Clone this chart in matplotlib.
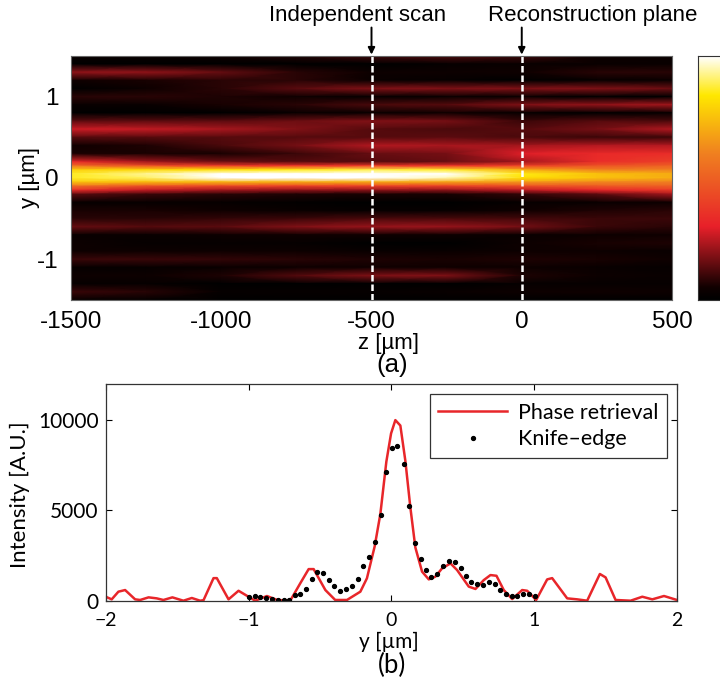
import matplotlib
matplotlib.use('Agg')
import matplotlib.pyplot as plt
from matplotlib.colors import LinearSegmentedColormap
import numpy as np

# top panel: intensity read by eye on a coarse grid
z_grid = [-1500, -1250, -1000, -750, -500, -250, 0, 250, 500]
y_grid = [1.5, 1.4, 1.3, 1.2, 1.1, 1.0, 0.9, 0.8, 0.7, 0.6, 0.5, 0.4, 0.3,
          0.2, 0.15, 0.1, 0.05, 0.0, -0.05, -0.1, -0.15, -0.2, -0.3, -0.4,
          -0.5, -0.6, -0.7, -0.8, -0.9, -1.0, -1.1, -1.2, -1.3, -1.4, -1.5]
heat = [
    [.03, .03, .04, .07, .10, .12, .10, .04, .03],
    [.00, .00, .00, .00, .00, .02, .03, .03, .03],
    [.20, .20, .15, .08, .04, .04, .05, .08, .08],
    [.05, .06, .08, .08, .03, .02, .00, .02, .03],
    [.00, .04, .08, .14, .18, .18, .18, .18, .16],
    [.08, .08, .07, .05, .02, .03, .03, .00, .00],
    [.03, .03, .06, .08, .12, .13, .18, .20, .22],
    [.00, .00, .00, .03, .03, .05, .02, .00, .02],
    [.14, .14, .14, .16, .18, .17, .10, .13, .12],
    [.27, .26, .23, .18, .13, .12, .13, .17, .24],
    [.13, .13, .13, .13, .13, .14, .12, .10, .10],
    [.05, .07, .12, .17, .24, .23, .22, .24, .24],
    [.06, .06, .06, .10, .15, .17, .29, .33, .34],
    [.33, .22, .16, .13, .13, .15, .22, .34, .40],
    [.55, .45, .38, .36, .38, .36, .40, .46, .50],
    [.78, .80, .82, .85, .88, .86, .70, .60, .60],
    [.86, .93, 1.0, 1.0, 1.0, 1.0, .85, .75, .70],
    [.86, .90, 1.0, 1.0, 1.0, .95, .82, .75, .70],
    [.76, .74, .72, .70, .70, .68, .66, .62, .60],
    [.55, .46, .42, .40, .40, .40, .44, .48, .50],
    [.34, .26, .22, .20, .20, .20, .25, .32, .38],
    [.14, .10, .08, .07, .06, .06, .09, .14, .22],
    [.02, .02, .02, .01, .00, .00, .02, .03, .04],
    [.06, .06, .05, .03, .02, .02, .05, .07, .08],
    [.08, .08, .09, .10, .12, .12, .11, .10, .10],
    [.15, .13, .14, .18, .21, .21, .17, .10, .08],
    [.03, .03, .04, .05, .05, .04, .03, .04, .05],
    [.04, .02, .02, .02, .00, .00, .04, .06, .07],
    [.04, .04, .04, .04, .03, .03, .04, .04, .03],
    [.10, .10, .09, .08, .07, .06, .07, .06, .05],
    [.02, .02, .03, .04, .05, .05, .04, .03, .02],
    [.04, .04, .07, .13, .18, .18, .07, .04, .03],
    [.02, .02, .00, .00, .00, .00, .02, .02, .02],
    [.10, .08, .02, .02, .02, .03, .04, .05, .04],
    [.02, .01, .00, .00, .00, .00, .00, .00, .00],
]
map_stops = [0, .05, .30, .60, .84, 1]
map_colors = ['#000000', '#100000', '#e8202a', '#f08020', '#ffe800', '#ffffff']
scan_z = [-500, 0]
scan_names = ['Independent scan', 'Reconstruction plane']
z_ticks = [-1500, -1000, -500, 0, 500]
z_labels = ['-1500', '-1000', '-500', '0', '500']
yt_ticks = [-1, 0, 1]
yt_labels = ['-1', '0', '1']

# bottom panel
retr_y = [-2, -1.958, -1.911, -1.864, -1.794, -1.759, -1.70, -1.643, -1.596, -1.533,
          -1.456, -1.397, -1.339, -1.315, -1.245, -1.222, -1.14, -1.07, -1, -.953,
          -.871, -.80, -.708, -.638, -.579, -.544, -.462, -.393, -.311, -.217, -.171,
          -.117, -.077, -.035, -.002, .028, .063, .098, .133, .168, .215, .262, .308,
          .355, .414, .46, .542, .589, .647, .694, .736, .787, .846, .916, .951, 1.014,
          1.091, 1.126, 1.231, 1.301, 1.371, 1.46, 1.50, 1.57, 1.675, 1.757, 1.827,
          1.909, 2]
retr_i = [220, 75, 500, 590, 75, 40, 185, 130, 40, 185,
          0, 150, 0, 30, 1250, 1250, 75, 550, 220, 0,
          260, 40, 0, 960, 1750, 1750, 590, 40, 40, 500, 1240,
          3000, 4800, 7700, 9260, 10000, 9700, 7750, 5170, 2950, 1610, 1180, 1330,
          1790, 2065, 1700, 780, 650, 1140, 1420, 1380, 590, 90, 590, 550, 40,
          1180, 1250, 130, 75, 0, 1480, 1290, 40, 0, 220, 75,
          260, 40]
knife_y = [-1, -.958, -.918, -.876, -.836, -.797, -.755, -.715, -.675, -.638, -.60,
           -.558, -.519, -.479, -.437, -.40, -.357, -.318, -.276, -.234, -.196, -.154,
           -.114, -.075, -.035, .005, .042, .089, .124, .164, .206, .245, .28, .322,
           .364, .402, .444, .486, .523, .561, .603, .643, .685, .727, .764, .801,
           .846, .883, .925, .965, 1.005]
knife_i = [185, 260, 185, 130, 75, 20, 20, 20, 295, 350, 630,
           1200, 1590, 1510, 1140, 800, 550, 650, 830, 1200, 1940, 2420,
           3230, 4740, 7140, 8470, 8580, 7580, 5240, 3170, 2310, 1700, 1290, 1490,
           1940, 2210, 2140, 1830, 1380, 1010, 900, 885, 1010, 940, 610, 350,
           260, 280, 390, 370, 240]

W, H = 720, 678
fig = plt.figure(figsize=(7.2, 6.78), dpi=100)
cmap = LinearSegmentedColormap.from_list('scan', list(zip(map_stops, map_colors)))


def box(x0, y0, x1, y1):
    return [x0 / W, 1 - y1 / H, (x1 - x0) / W, (y1 - y0) / H]


# (a)
top_font = 'Liberation Sans'
ax = fig.add_axes(box(71, 56, 672, 300))
ax.pcolormesh(z_grid, y_grid, np.array(heat), cmap=cmap, vmin=0, vmax=1, shading='gouraud')
ax.set_xlim(-1500, 500)
ax.set_ylim(-1.5, 1.5)
for z in scan_z:
    ax.axvline(z, color='white', linestyle='--', linewidth=1.8, dashes=(2.6, 1.2))
ax.set_xticks(z_ticks, z_labels, family=top_font, fontsize=17.5)
ax.set_yticks(yt_ticks, yt_labels, family=top_font, fontsize=17.5)
ax.tick_params(length=0, pad=9)
ax.tick_params(axis='x', pad=8)
for s in ax.spines.values():
    s.set_color('#666666')
    s.set_linewidth(0.8)
for z, name, tx in zip(scan_z, scan_names, [358, 593]):
    ax.annotate('', xy=(z, 1.5), xytext=(z, 1.85), annotation_clip=False,
                arrowprops=dict(arrowstyle='-|>', color='black', lw=1.4, mutation_scale=10, shrinkA=0, shrinkB=1))
    fig.text(tx / W, 1 - 16 / H, name, family=top_font, fontsize=16, ha='center', va='center')
fig.text(388 / W, 1 - 343 / H, 'z [µm]', family=top_font, fontsize=16, ha='center', va='center')
fig.text(392 / W, 1 - 365 / H, '(a)', family=top_font, fontsize=18.5, ha='center', va='center')
fig.text(30 / W, 1 - 178 / H, 'y [µm]', family=top_font, fontsize=16, rotation=90, ha='center', va='center')

# colorbar, runs off the right edge of the picture
cax = fig.add_axes(box(698, 56, 760, 300))
cax.imshow(np.linspace(1, 0, 256).reshape(-1, 1), cmap=cmap, aspect='auto')
cax.set_xticks([])
cax.set_yticks([])
for s in cax.spines.values():
    s.set_color('#333333')
    s.set_linewidth(0.8)

# (b)
low_font = 'Lato'
bx = fig.add_axes(box(105.7, 384, 677, 600.7))
bx.plot(retr_y, retr_i, color='#e8262a', linewidth=1.8, label='Phase retrieval')
bx.plot(knife_y, knife_i, linestyle='none', marker='o', markersize=2.8, color='black', label='Knife\u2013edge')
bx.set_xlim(-2, 2)
bx.set_ylim(0, 12000)
bx.set_xticks([-2, -1, 0, 1, 2], ['\u22122', '\u22121', '0', '1', '2'], family=low_font, fontsize=14)
bx.set_yticks([0, 5000, 10000], ['0', '5000', '10000'], family=low_font, fontsize=15)
bx.tick_params(direction='in', top=True, right=True, length=4, width=0.8, pad=5)
bx.tick_params(axis='x', pad=8)
for s in bx.spines.values():
    s.set_color('#333333')
    s.set_linewidth(0.9)
leg = bx.legend(loc='upper right', bbox_to_anchor=(0.9825, 0.952), fancybox=False, framealpha=1,
                edgecolor='#333333', borderaxespad=0, handlelength=3.2, handletextpad=0.5, labelspacing=0.3,
                prop={'family': low_font, 'size': 15.5})
leg.get_frame().set_linewidth(0.9)
fig.text(20 / W, 1 - 495 / H, 'Intensity [A.U.]', family=low_font, fontsize=16, rotation=90, ha='center', va='center')
fig.text(389 / W, 1 - 642 / H, 'y [µm]', family=low_font, fontsize=15, ha='center', va='center')
fig.text(392 / W, 1 - 665 / H, '(b)', family=low_font, fontsize=18.5, ha='center', va='center')

fig.savefig('out.png', dpi=100)
